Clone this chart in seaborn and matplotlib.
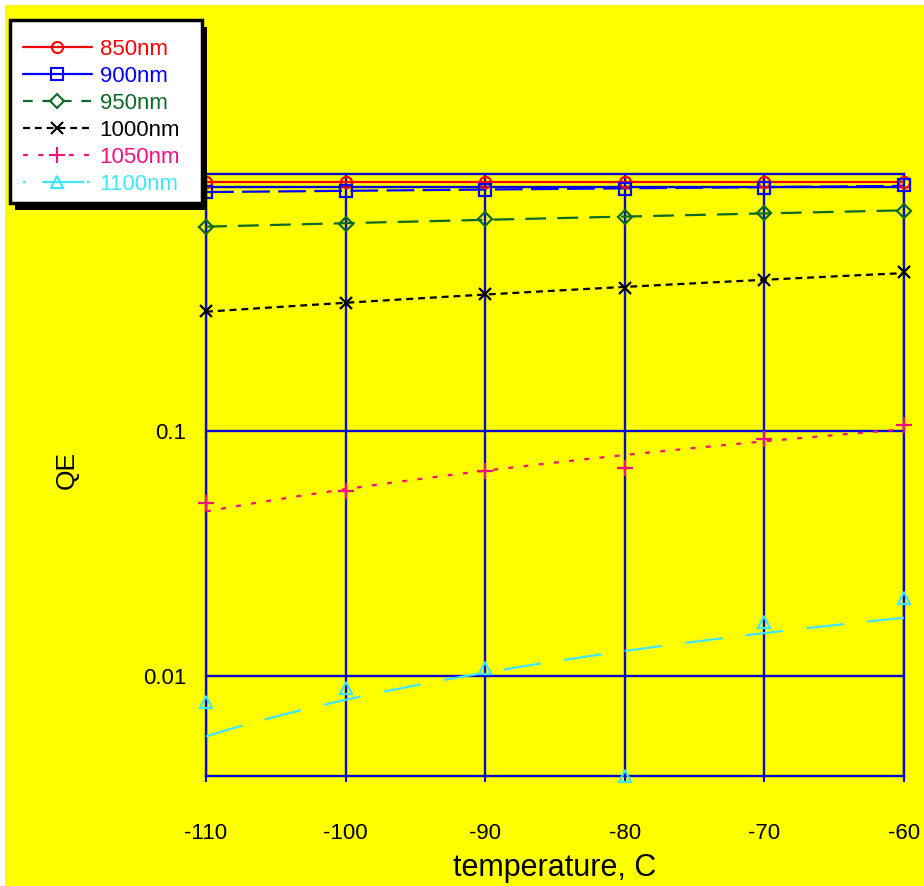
import matplotlib
matplotlib.use("Agg")
import matplotlib.pyplot as plt
from matplotlib.lines import Line2D
from matplotlib.patches import Rectangle
import pandas as pd
import seaborn as sns

# Measured quantum efficiency versus CCD temperature
temperature = [-110, -100, -90, -80, -70, -60]
wavelengths = ["850nm", "900nm", "950nm", "1000nm", "1050nm", "1100nm"]
qe_850 = [1.05, 1.05, 1.05, 1.05, 1.05, 1.05]
qe_900 = [0.955, 0.965, 0.975, 0.985, 0.995, 1.015]
qe_950 = [0.689, 0.706, 0.738, 0.756, 0.785, 0.798]
qe_1000 = [0.310, 0.335, 0.365, 0.388, 0.415, 0.447]
qe_1050 = [0.0512, 0.0571, 0.0689, 0.0711, 0.0933, 0.1061]
qe_1100 = [0.0078, 0.0089, 0.0108, 0.0039, 0.0167, 0.0208]

x_ticks = [-110, -100, -90, -80, -70, -60]
y_ticks = [0.01, 0.1, 1]
y_tick_labels = ["0.01", "0.1", ""]

series = [qe_850, qe_900, qe_950, qe_1000, qe_1050, qe_1100]
df = pd.concat(
    [pd.DataFrame({"temperature": temperature, "QE": vals, "wavelength": wl})
     for wl, vals in zip(wavelengths, series)],
    ignore_index=True,
)

# style per wavelength: colour, marker, marker size, dash pattern (points)
colors = ["#FF0000", "#0000FF", "#0F6A26", "#000000", "#F5107F", "#40E6FF"]
markers = ["o", "s", "D", "x", "+", "^"]
msizes = [8, 8, 7, 9, 11, 8.5]
dashes = [None, (20, 6), (15, 8), (5, 3.5), (3.5, 7.5), (27, 17)]
legend_dashes = [None, None, (7, 7), (5, 3.5), (3.5, 7.5), (2, 12, 30, 2)]

sns.set_theme(style="white")
plt.rcParams["font.family"] = ["Liberation Sans", "DejaVu Sans"]
plt.rcParams["lines.scale_dashes"] = False

W, H = 924, 886
fig = plt.figure(figsize=(W / 100, H / 100), dpi=100)
fig.patch.set_facecolor("white")
fig.add_artist(Rectangle((5 / W, 0), 1 - 5 / W, 1 - 5 / H, transform=fig.transFigure,
                         facecolor="#FFFF00", edgecolor="none", zorder=-10))

ax = fig.add_axes([206 / W, 1 - 776 / H, (904 - 206) / W, (776 - 174) / H])
ax.set_facecolor("#FFFF00")
ax.set_yscale("log")

grid_blue = "#0A0AD0"

for wl, c, m, ms, d in zip(wavelengths, colors, markers, msizes, dashes):
    sub = df[df["wavelength"] == wl]
    line_kws = {"lw": 1.6, "zorder": 3}
    if d is None:
        line_kws["linestyle"] = "-"
    else:
        line_kws["dashes"] = d
    # linear least-squares trend through the measured points
    sns.regplot(data=sub, x="temperature", y="QE", ax=ax, scatter=False,
                ci=None, truncate=True, color=c, line_kws=line_kws)
    sns.lineplot(data=sub, x="temperature", y="QE", ax=ax, linestyle="",
                 marker=m, markersize=ms, markerfacecolor="none",
                 markeredgecolor=c, markeredgewidth=1.6, color=c,
                 errorbar=None, clip_on=False, zorder=4)

ax.set_xlim(-110, -60)
ax.set_ylim(0.0039, 1.13)
ax.set_xticks(x_ticks)
ax.set_xticklabels([str(t) for t in x_ticks])
ax.set_yticks(y_ticks)
ax.set_yticklabels(y_tick_labels)
ax.yaxis.set_minor_locator(matplotlib.ticker.NullLocator())

ax.grid(True, which="major", color=grid_blue, lw=1.7)
ax.set_axisbelow(True)
for sp in ax.spines.values():
    sp.set_color(grid_blue)
    sp.set_linewidth(1.7)

ax.tick_params(axis="x", which="major", bottom=True, length=4, width=1.5,
               color=grid_blue, pad=30, labelsize=16, labelcolor="black")
ax.tick_params(axis="y", which="major", left=False, length=0, pad=14,
               labelsize=16, labelcolor="black")

ax.set_xlabel("temperature, C", fontsize=22, color="black")
ax.set_ylabel("QE", fontsize=19, color="black")
ax.xaxis.set_label_coords(0.5, -0.128)
ax.yaxis.set_label_coords(-0.183, 0.508)

handles = []
for c, m, ms, d in zip(colors, markers, msizes, legend_dashes):
    h = Line2D([], [], color=c, lw=1.6, marker=m, markersize=ms,
               markerfacecolor="none", markeredgecolor=c, markeredgewidth=1.5)
    if d is not None:
        h.set_dashes(d)
    handles.append(h)

# legend entries without a frame; the boxed panel is drawn around them below
leg = fig.legend(handles, wavelengths, loc="upper left",
                 bbox_to_anchor=(23 / W, 1 - 39 / H), bbox_transform=fig.transFigure,
                 frameon=False, fontsize=16, handlelength=3.1,
                 handletextpad=0.35, labelspacing=0.27, borderpad=0,
                 borderaxespad=0)
leg.set_zorder(7)
for t, c in zip(leg.get_texts(), colors):
    t.set_color(c)

fig.canvas.draw()
bb = leg.get_window_extent()
x0, x1 = bb.x0 - 13, bb.x1 + 22
y0, y1 = bb.y0 - 8, bb.y1 + 19
# drop shadow, then white panel with black border
fig.add_artist(Rectangle(((x0 + 5) / W, (y0 - 7) / H), (x1 - x0) / W, (y1 - y0) / H,
                         transform=fig.transFigure, facecolor="black",
                         edgecolor="none", zorder=5))
fig.add_artist(Rectangle((x0 / W, y0 / H), (x1 - x0) / W, (y1 - y0) / H,
                         transform=fig.transFigure, facecolor="white",
                         edgecolor="black", lw=2.5, zorder=6))

fig.savefig("out.png", dpi=100, facecolor=fig.get_facecolor())
